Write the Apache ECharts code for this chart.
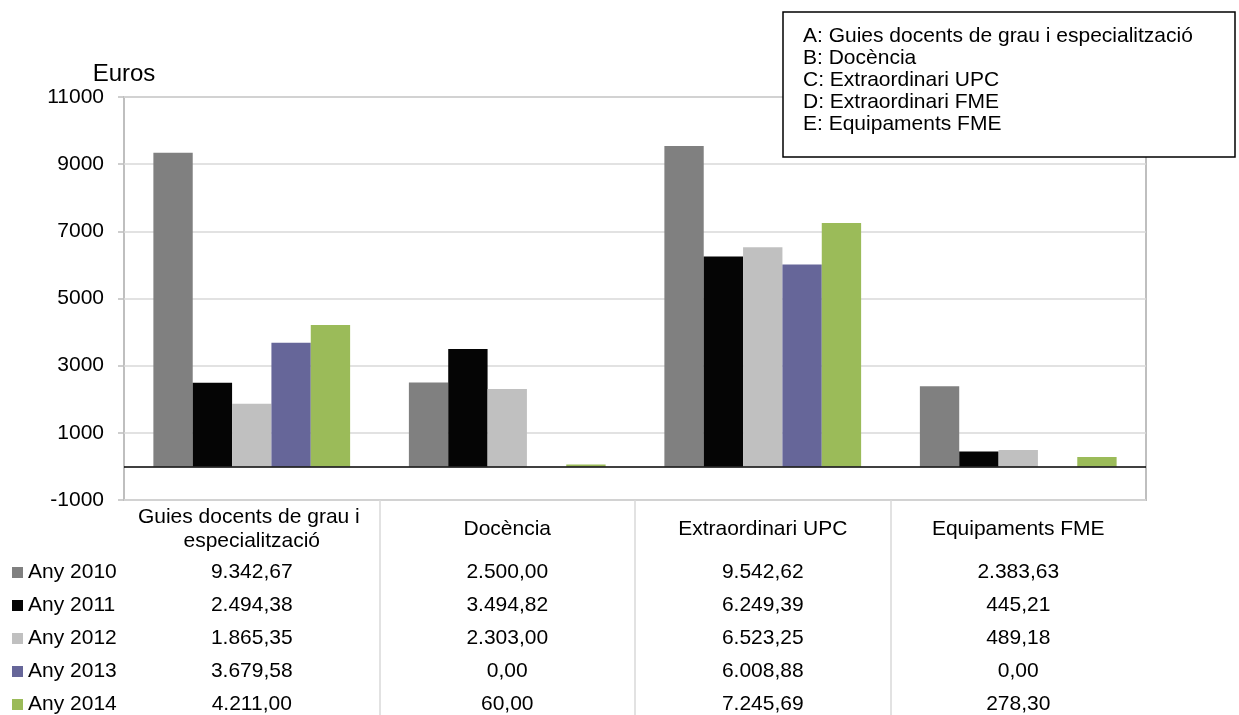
<!DOCTYPE html>
<html><head><meta charset="utf-8">
<script src="https://cdn.jsdelivr.net/npm/echarts@6/dist/echarts.min.js"></script>
<style>html,body{margin:0;padding:0;background:#fff}#c{width:1239px;height:715px}</style>
</head><body><div id="c"></div>
<script>
const categories = ['Guies docents de grau i especialització', 'Docència', 'Extraordinari UPC', 'Equipaments FME'];
const seriesNames = ['Any 2010', 'Any 2011', 'Any 2012', 'Any 2013', 'Any 2014'];
const any2010 = [9342.67, 2500.00, 9542.62, 2383.63];
const any2011 = [2494.38, 3494.82, 6249.39, 445.21];
const any2012 = [1865.35, 2303.00, 6523.25, 489.18];
const any2013 = [3679.58, 0.00, 6008.88, 0.00];
const any2014 = [4211.00, 60.00, 7245.69, 278.30];
const yMin = -1000, yMax = 11000, yStep = 2000;
const legendLines = ['A: Guies docents de grau i especialització', 'B: Docència', 'C: Extraordinari UPC', 'D: Extraordinari FME', 'E: Equipaments FME'];
const colors = ['#808080', '#050505', '#C0C0C0', '#666699', '#9BBB59'];

const rows = [any2010, any2011, any2012, any2013, any2014];
const FONT = "'Liberation Sans', Arial, sans-serif";
const FS = 21;
function fmt(v) {
  const parts = v.toFixed(2).split('.');
  return parts[0].replace(/\B(?=(\d{3})+(?!\d))/g, '.') + ',' + parts[1];
}

const chart = echarts.init(document.getElementById('c'), null, {renderer: 'canvas'});
const xAxes = [{
  type: 'category', data: categories, gridIndex: 0, position: 'bottom',
  axisLine: {show: false, onZero: false}, axisTick: {show: false},
  axisLabel: {interval: 0, fontSize: FS, fontFamily: FONT, color: '#000', width: 240, overflow: 'break', lineHeight: 24, margin: 29, verticalAlign: 'middle'}
}];
rows.forEach((r, i) => {
  xAxes.push({
    type: 'category', data: r.map(fmt), gridIndex: 0, position: 'bottom', offset: 72 + 33 * i,
    axisLine: {show: false, onZero: false}, axisTick: {show: false},
    axisLabel: {interval: 0, fontSize: FS, fontFamily: FONT, color: '#000', margin: 0, verticalAlign: 'middle'}
  });
});

const series = rows.map((r, i) => ({
  name: seriesNames[i], type: 'bar', xAxisIndex: 0, yAxisIndex: 0, data: r,
  itemStyle: {color: colors[i]}, barGap: '0%', barCategoryGap: '23%',
  markLine: i === 0 ? {silent: true, symbol: 'none', label: {show: false}, lineStyle: {color: '#000', width: 1.5, type: 'solid'}, data: [{yAxis: 0}]} : undefined
}));

chart.setOption({
  animation: false,
  textStyle: {fontFamily: FONT},
  grid: {left: 124, right: 93, top: 97, bottom: 215, show: true, borderColor: '#BFBFBF', borderWidth: 2},
  xAxis: xAxes,
  yAxis: {
    type: 'value', min: yMin, max: yMax, interval: yStep,
    axisLine: {show: false}, axisTick: {show: true, length: 6, lineStyle: {color: '#BFBFBF', width: 1.5}},
    splitLine: {lineStyle: {color: '#D9D9D9', width: 1.5}},
    axisLabel: {fontSize: FS, fontFamily: FONT, color: '#000', margin: 20, formatter: v => String(v)},
    name: 'Euros', nameLocation: 'end', nameGap: 11,
    nameTextStyle: {fontSize: 24, fontFamily: FONT, color: '#000', align: 'center'}
  },
  legend: {
    orient: 'vertical', left: 12, top: 562, padding: 0, itemWidth: 11, itemHeight: 11, itemGap: 12, icon: 'rect',
    height: 160, data: seriesNames, textStyle: {fontSize: FS, fontFamily: FONT, color: '#000', lineHeight: 21, padding: [0, 0, 0, 0]}, selectedMode: false
  },
  series: series
});

// table column separators and note box
const cx = categories.map(c => chart.convertToPixel({xAxisIndex: 0}, c));
const elements = [];
for (let i = 1; i < cx.length; i++) {
  const x = Math.round((cx[i - 1] + cx[i]) / 2);
  elements.push({type: 'line', shape: {x1: x, y1: 500, x2: x, y2: 715}, style: {stroke: '#D9D9D9', lineWidth: 1.5}, silent: true});
}
elements.push({type: 'rect', shape: {x: 783, y: 12, width: 452, height: 145}, style: {fill: '#fff', stroke: '#000', lineWidth: 1.5}, z: 100, silent: true});
legendLines.forEach((t, i) => {
  elements.push({type: 'text', x: 803, y: 36 + 22 * i, z: 101, silent: true,
    style: {text: t, fontSize: FS, fontFamily: FONT, fill: '#000', verticalAlign: 'middle', align: 'left'}});
});
chart.setOption({graphic: {elements: elements}});
</script>
</body></html>
